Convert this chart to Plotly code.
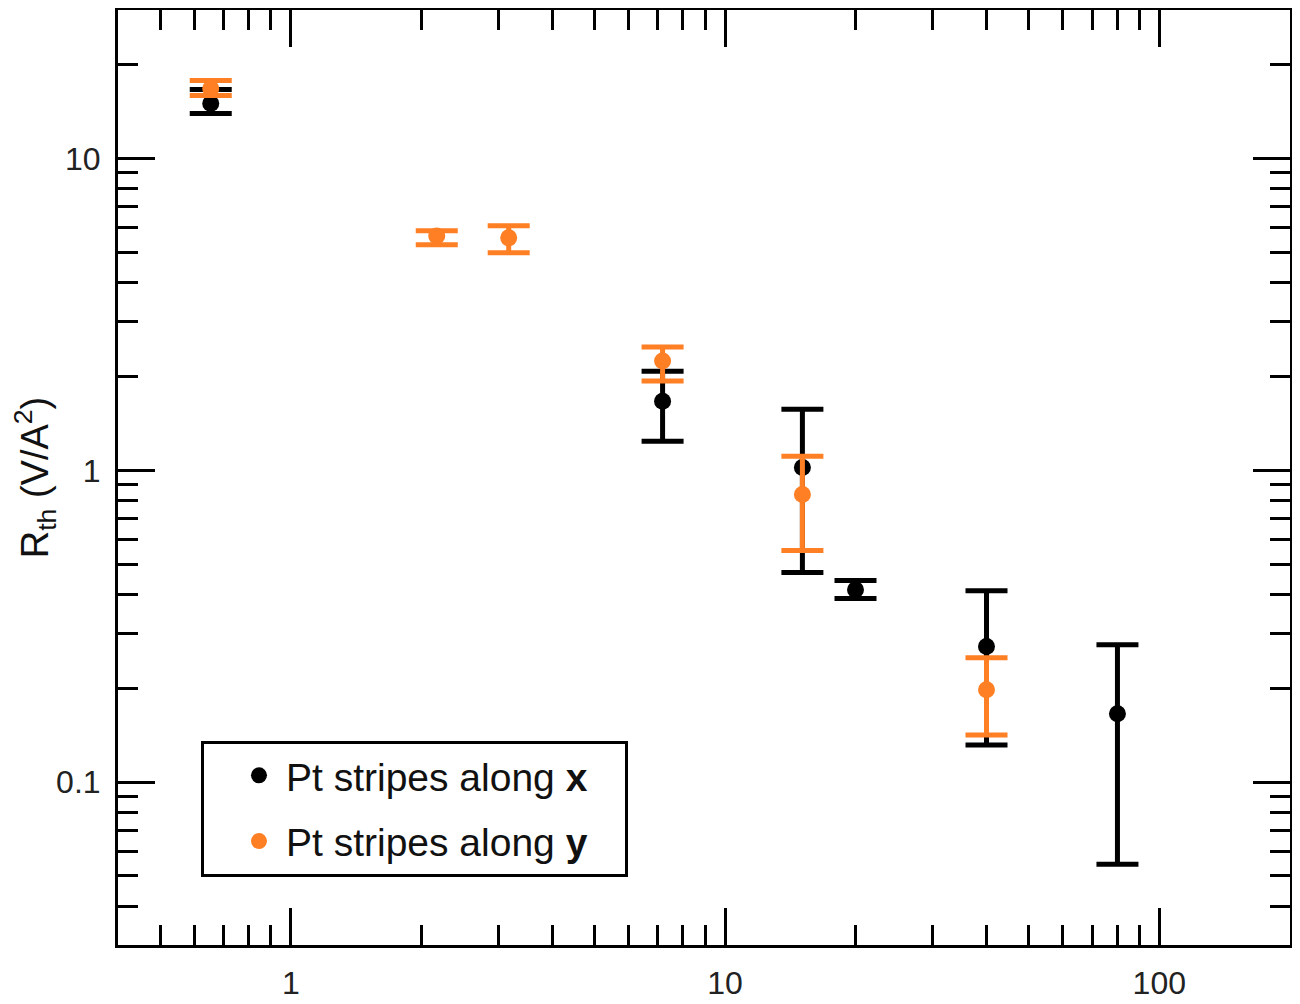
import plotly.graph_objects as go

# Data (log-log)
x_series_x = [0.654, 7.18, 15.07, 19.97, 40.0, 80.1]
y_series_x = [15.03, 1.667, 1.022, 0.414, 0.272, 0.1655]
y_series_x_hi = [16.67, 2.08, 1.571, 0.443, 0.411, 0.2758]
y_series_x_lo = [13.95, 1.24, 0.470, 0.388, 0.1315, 0.0545]

x_series_y = [0.654, 2.168, 3.175, 7.18, 15.07, 40.0]
y_series_y = [16.8, 5.65, 5.57, 2.242, 0.837, 0.1976]
y_series_y_hi = [17.8, 5.87, 6.09, 2.487, 1.109, 0.2504]
y_series_y_lo = [15.94, 5.29, 4.99, 1.933, 0.553, 0.1416]

x_tickvals = [1, 10, 100]
x_ticktext = ["1", "10", "100"]
y_tickvals = [0.1, 1, 10]
y_ticktext = ["0.1", "1", "10"]

BLACK = "#000000"
ORANGE = "#FF7F24"
FONT = "Liberation Sans, Arial, sans-serif"
NB = "\u00a0"


def err(y, hi, lo):
    return dict(
        type="data",
        symmetric=False,
        array=[h - v for h, v in zip(hi, y)],
        arrayminus=[v - l for v, l in zip(y, lo)],
        thickness=5,
        width=21,
    )


fig = go.Figure()
fig.add_trace(go.Scatter(
    x=x_series_x, y=y_series_x, mode="markers",
    name="Pt stripes along <b>x</b>" + NB * 3, legendgroup="a",
    marker=dict(color=BLACK, size=17),
    error_y=dict(err(y_series_x, y_series_x_hi, y_series_x_lo), color=BLACK),
))
fig.add_trace(go.Scatter(
    x=x_series_y, y=y_series_y, mode="markers",
    name="Pt stripes along <b>y</b>" + NB * 3, legendgroup="b",
    marker=dict(color=ORANGE, size=17),
    error_y=dict(err(y_series_y, y_series_y_hi, y_series_y_lo), color=ORANGE),
))

axis_common = dict(
    type="log",
    automargin=False,
    showline=True, linecolor="black", linewidth=3,
    mirror="allticks",
    ticks="inside", ticklen=37, tickwidth=3, tickcolor="black",
    showgrid=False, zeroline=False,
    tickfont=dict(family=FONT, size=32, color="#222222"),
    minor=dict(ticks="inside", ticklen=20, tickwidth=3, tickcolor="black",
               dtick="D1", showgrid=False),
)

fig.update_layout(
    width=1300, height=1004,
    margin=dict(l=110, r=18, t=2, b=67),
    paper_bgcolor="white", plot_bgcolor="white",
    font=dict(family=FONT, color="#111111"),
    xaxis=dict(axis_common, range=[-0.398, 2.301],
               tickvals=x_tickvals, ticktext=x_ticktext,
               ticklabelstandoff=8),
    yaxis=dict(axis_common, range=[-1.523, 1.477],
               tickvals=y_tickvals, ticktext=y_ticktext,
               ticklabelstandoff=8,
               title=dict(text="R<sub>th</sub> (V/A<sup>2</sup>)",
                          font=dict(family=FONT, size=38, color="#111111"),
                          standoff=2)),
    legend=dict(
        x=0.0708, y=0.2187, xanchor="left", yanchor="top",
        bordercolor="black", borderwidth=3, bgcolor="white",
        font=dict(family=FONT, size=39, color="#111111"),
        traceorder="grouped", tracegroupgap=12,
        indentation=28, itemwidth=44,
    ),
    showlegend=True,
)

fig.write_html("out.html")
